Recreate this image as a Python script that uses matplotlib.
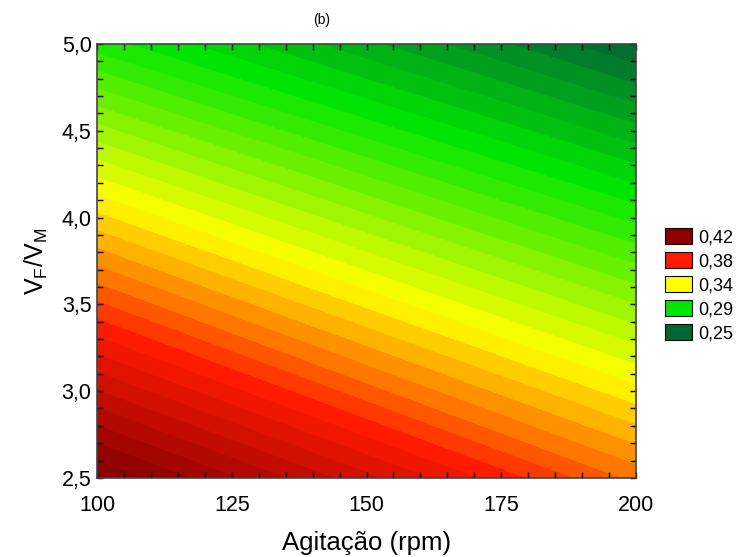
import numpy as np
import matplotlib
matplotlib.use("Agg")
import matplotlib.pyplot as plt
from matplotlib.colors import LinearSegmentedColormap
from matplotlib.patches import Patch
from matplotlib.ticker import MultipleLocator

plt.rcParams['font.family'] = ['Liberation Sans', 'DejaVu Sans']

# response values at the corners of the region
agitacao = [100, 200]
vf_vm = [2.5, 5.0]
resposta = [[0.425, 0.365],
            [0.295, 0.250]]

legend_values = [0.42, 0.38, 0.34, 0.29, 0.25]
legend_labels = ['0,42', '0,38', '0,34', '0,29', '0,25']
legend_colors = ['#8c0000', '#ff1a00', '#ffff00', '#00e600', '#006633']

x_ticks = [100, 125, 150, 175, 200]
x_labels = ['100', '125', '150', '175', '200']
y_ticks = [2.5, 3.0, 3.5, 4.0, 4.5, 5.0]
y_labels = ['2,5', '3,0', '3,5', '4,0', '4,5', '5,0']

# colormap through the legend colours
vmin, vmax = min(legend_values), max(legend_values)
stops = sorted(zip(legend_values, legend_colors))
cmap = LinearSegmentedColormap.from_list(
    'stat', [((v - vmin) / (vmax - vmin), c) for v, c in stops])
cmap.set_under(legend_colors[-1])
cmap.set_over(legend_colors[0])

step = (vmax - vmin) / 32
levels = np.arange(vmin - 8 * step, vmax + 8 * step, step)

fig = plt.figure(figsize=(7.36, 5.57), dpi=100)
ax = fig.add_axes([0.132, 0.142, 0.732, 0.779])

X, Y = np.meshgrid(agitacao, vf_vm)
ax.contourf(X, Y, np.array(resposta), levels=levels, cmap=cmap,
            vmin=vmin, vmax=vmax, extend='both', antialiased=False)

ax.set_xlim(100, 200)
ax.set_ylim(2.5, 5.0)
ax.set_xticks(x_ticks)
ax.set_xticklabels(x_labels)
ax.set_yticks(y_ticks)
ax.set_yticklabels(y_labels)
ax.xaxis.set_minor_locator(MultipleLocator(5))
ax.yaxis.set_minor_locator(MultipleLocator(0.1))
ax.tick_params(which='both', direction='in', top=True, right=True,
               length=4, width=1, labelsize=15.5)
ax.tick_params(axis='x', pad=12)
ax.tick_params(axis='y', pad=4)
for s in ax.spines.values():
    s.set_color('#444444')
    s.set_linewidth(1.2)

ax.set_xlabel('Agitação (rpm)', fontsize=18.5, labelpad=11)
ax.set_ylabel(r'V$_\mathregular{F}$/V$_\mathregular{M}$', fontsize=18, labelpad=8)
fig.text(0.4375, 0.964, '(b)', ha='center', va='center', fontsize=10)

handles = [Patch(facecolor=c, edgecolor='black', linewidth=0.8) for c in legend_colors]
fig.legend(handles, legend_labels, loc='center left', bbox_to_anchor=(0.903, 0.488),
           frameon=False, fontsize=13, handlelength=1.5, handleheight=0.95,
           handletextpad=0.35, labelspacing=0.33, borderaxespad=0, borderpad=0)

fig.savefig('out.png', dpi=100)
